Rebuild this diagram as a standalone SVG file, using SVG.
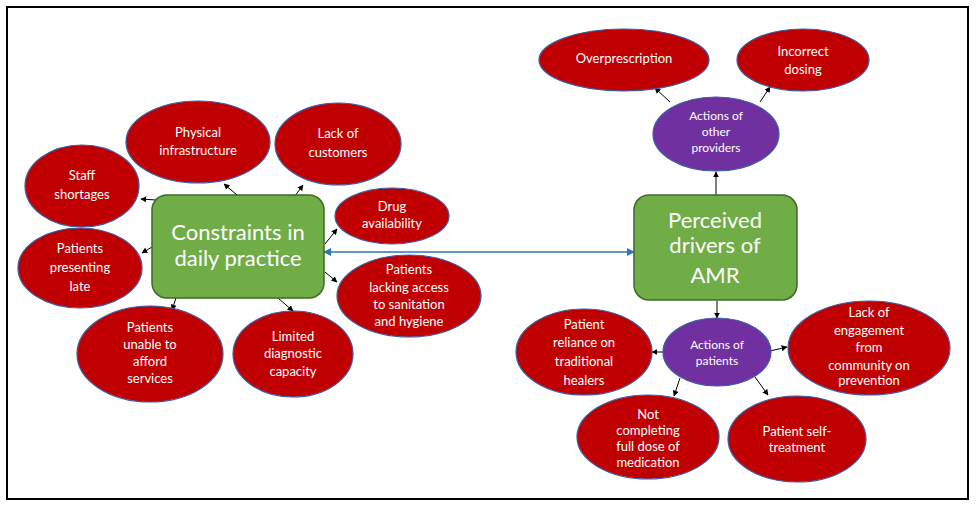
<svg xmlns="http://www.w3.org/2000/svg" width="980" height="509" viewBox="0 0 980 509">
<defs>
<style>
.red{fill:#C00000;stroke:#3A5DA8;stroke-width:1.2}
.pur{fill:#7030A0;stroke:#3A5DA8;stroke-width:1.2}
.box{fill:#70AD47;stroke:#3D6B25;stroke-width:1.5}
.t{font-family:Lato,"Open Sans","Liberation Sans",sans-serif;fill:#fff;text-anchor:middle;font-size:13px}
.ts{font-family:Lato,"Open Sans","Liberation Sans",sans-serif;fill:#fff;text-anchor:middle;font-size:12px}
.tb{font-family:Lato,"Open Sans","Liberation Sans",sans-serif;fill:#fff;text-anchor:middle;font-size:22px}
.c{stroke:#000;stroke-width:1;fill:none;marker-end:url(#ah)}
</style>
<marker id="ah" viewBox="0 0 10 10" refX="9" refY="5" markerWidth="6" markerHeight="6" markerUnits="userSpaceOnUse" orient="auto"><path d="M0,0 L10,5 L0,10 z" fill="#000"/></marker>
<marker id="bh" viewBox="0 0 10 10" refX="9" refY="5" markerWidth="8" markerHeight="8" markerUnits="userSpaceOnUse" orient="auto-start-reverse"><path d="M0,0 L10,5 L0,10 z" fill="#2E75B6"/></marker>
</defs>
<rect x="0" y="0" width="980" height="509" fill="#fff"/>
<rect x="7" y="7" width="961" height="492" fill="none" stroke="#000" stroke-width="2"/>

<g id="connectors">
<line x1="324" y1="252" x2="634" y2="252" stroke="#2E75B6" stroke-width="1.5" marker-start="url(#bh)" marker-end="url(#bh)"/>
<line class="c" x1="156" y1="200" x2="141" y2="199"/>
<line class="c" x1="237" y1="195" x2="224" y2="184"/>
<line class="c" x1="295" y1="196" x2="303" y2="185"/>
<line class="c" x1="325" y1="244" x2="337" y2="229"/>
<line class="c" x1="152" y1="247" x2="142" y2="253"/>
<line class="c" x1="325" y1="272" x2="337" y2="282"/>
<line class="c" x1="176" y1="298" x2="172" y2="310"/>
<line class="c" x1="278" y1="298" x2="293" y2="311"/>
<line class="c" x1="716" y1="195" x2="716" y2="172"/>
<line class="c" x1="670" y1="102" x2="655" y2="88"/>
<line class="c" x1="760" y1="102" x2="770" y2="87"/>
<line class="c" x1="717" y1="301" x2="717" y2="318"/>
<line class="c" x1="663" y1="352" x2="652" y2="352"/>
<line class="c" x1="770" y1="351" x2="787" y2="347"/>
<line class="c" x1="680" y1="378" x2="674" y2="396"/>
<line class="c" x1="755" y1="377" x2="768" y2="395"/>
</g>

<g id="constraints">
<rect class="box" x="152" y="195" width="172" height="103" rx="15"/>
<text class="tb" x="238" y="240">Constraints in</text>
<text class="tb" x="238" y="266">daily practice</text>
</g>
<g id="physical">
<ellipse class="red" cx="198" cy="142" rx="72" ry="41"/>
<text class="t" x="198" y="137">Physical</text>
<text class="t" x="198" y="155">infrastructure</text>
</g>
<g id="customers">
<ellipse class="red" cx="338" cy="144" rx="63" ry="41"/>
<text class="t" x="338" y="138">Lack of</text>
<text class="t" x="338" y="157">customers</text>
</g>
<g id="staff">
<ellipse class="red" cx="82" cy="186" rx="57" ry="41"/>
<text class="t" x="82" y="180">Staff</text>
<text class="t" x="82" y="199">shortages</text>
</g>
<g id="drug">
<ellipse class="red" cx="392" cy="216" rx="57" ry="28"/>
<text class="t" x="392" y="211">Drug</text>
<text class="t" x="392" y="228">availability</text>
</g>
<g id="late">
<ellipse class="red" cx="80" cy="268" rx="62" ry="40"/>
<text class="t" x="80" y="253">Patients</text>
<text class="t" x="80" y="272">presenting</text>
<text class="t" x="80" y="291">late</text>
</g>
<g id="sanitation">
<ellipse class="red" cx="409" cy="296" rx="72" ry="41"/>
<text class="t" x="409" y="274">Patients</text>
<text class="t" x="409" y="292">lacking access</text>
<text class="t" x="409" y="309">to sanitation</text>
<text class="t" x="409" y="326">and hygiene</text>
</g>
<g id="afford">
<ellipse class="red" cx="150" cy="354" rx="73" ry="48"/>
<text class="t" x="150" y="332">Patients</text>
<text class="t" x="150" y="349">unable to</text>
<text class="t" x="150" y="366">afford</text>
<text class="t" x="150" y="383">services</text>
</g>
<g id="diagnostic">
<ellipse class="red" cx="293" cy="354" rx="60" ry="43"/>
<text class="t" x="293" y="341">Limited</text>
<text class="t" x="293" y="358">diagnostic</text>
<text class="t" x="293" y="376">capacity</text>
</g>

<g id="drivers">
<rect class="box" x="634" y="195" width="163" height="105" rx="15"/>
<text class="tb" x="715" y="228">Perceived</text>
<text class="tb" x="715" y="253">drivers of</text>
<text class="tb" x="715" y="283">AMR</text>
</g>
<g id="providers">
<ellipse class="pur" cx="716" cy="134" rx="63" ry="37"/>
<text class="ts" x="716" y="120">Actions of</text>
<text class="ts" x="716" y="136">other</text>
<text class="ts" x="716" y="152">providers</text>
</g>
<g id="overprescription">
<ellipse class="red" cx="624" cy="60" rx="85" ry="31"/>
<text class="t" x="624" y="63">Overprescription</text>
</g>
<g id="dosing">
<ellipse class="red" cx="803" cy="60" rx="66" ry="31"/>
<text class="t" x="803" y="56">Incorrect</text>
<text class="t" x="803" y="74">dosing</text>
</g>
<g id="patients">
<ellipse class="pur" cx="717" cy="352" rx="54" ry="34"/>
<text class="ts" x="717" y="349">Actions of</text>
<text class="ts" x="717" y="365">patients</text>
</g>
<g id="healers">
<ellipse class="red" cx="584" cy="352" rx="68" ry="43"/>
<text class="t" x="584" y="329">Patient</text>
<text class="t" x="584" y="347">reliance on</text>
<text class="t" x="584" y="366">traditional</text>
<text class="t" x="584" y="385">healers</text>
</g>
<g id="engagement">
<ellipse class="red" cx="869" cy="348" rx="81" ry="47"/>
<text class="t" x="869" y="317">Lack of</text>
<text class="t" x="869" y="335">engagement</text>
<text class="t" x="869" y="352">from</text>
<text class="t" x="869" y="370">community on</text>
<text class="t" x="869" y="385">prevention</text>
</g>
<g id="completing">
<ellipse class="red" cx="648" cy="437" rx="71" ry="42"/>
<text class="t" x="648" y="419">Not</text>
<text class="t" x="648" y="435">completing</text>
<text class="t" x="648" y="451">full dose of</text>
<text class="t" x="648" y="467">medication</text>
</g>
<g id="selftreatment">
<ellipse class="red" cx="797" cy="439" rx="69" ry="43"/>
<text class="t" x="797" y="436">Patient self-</text>
<text class="t" x="797" y="452">treatment</text>
</g>
</svg>
